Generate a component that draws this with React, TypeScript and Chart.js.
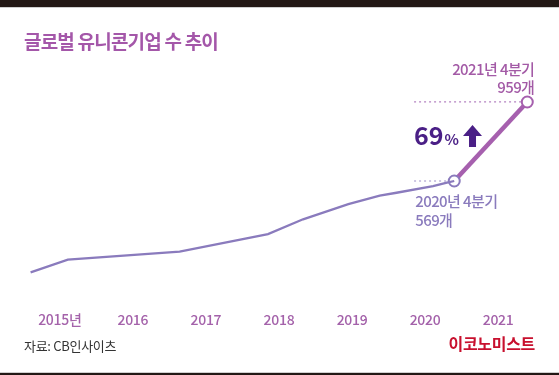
import React, { useEffect, useRef } from "react";
import { Chart, registerables } from "chart.js";

Chart.register(...registerables);

// Quarter positions (fractional year) and global unicorn counts
const mainX = [2015.1, 2015.61, 2017.14, 2018.35, 2018.83, 2019.45, 2019.88, 2020.11, 2020.61, 2020.8, 2020.9];
const mainY = [118, 181, 220, 307, 380, 455, 497, 511, 544, 561, 569];
const endX = [2020.9, 2021.9];
const endY = [569, 959];
const yearTicks = [2015, 2016, 2017, 2018, 2019, 2020, 2021];
const yearLabels = ["2015년", "2016", "2017", "2018", "2019", "2020", "2021"];
const titleText = "글로벌 유니콘기업 수 추이";
const sourceText = "자료: CB인사이츠";
const brandText = "이코노미스트";
const startLabel = ["2020년 4분기", "569개"];
const endLabel = ["2021년 4분기", "959개"];
const growthText = "69";

const FONT = "'Noto Sans CJK KR', 'Noto Sans', sans-serif";
const LAV = "#8a7bbd";
const PINK = "#a660ae";

export default function App() {
  const ref = useRef<HTMLCanvasElement | null>(null);
  useEffect(() => {
    document.body.style.margin = "0";
    const canvas = ref.current!;
    const deco = {
      id: "deco",
      beforeDraw(chart: any) {
        const c = chart.ctx;
        c.save();
        c.fillStyle = "#ffffff";
        c.fillRect(0, 0, 559, 375);
        c.fillStyle = "#231815";
        c.fillRect(0, 0, 559, 7);
        c.fillRect(0, 373, 559, 2);
        c.fillStyle = "#cfcfcf";
        c.fillRect(0, 7, 559, 1);
        c.fillRect(0, 372, 559, 1);
        // title
        c.fillStyle = "#a457a9";
        c.font = `bold 19px ${FONT}`;
        (c as any).letterSpacing = "-0.8px";
        c.textBaseline = "middle";
        c.textAlign = "left";
        c.fillText(titleText, 24, 42);
        (c as any).letterSpacing = "-0.3px";
        // source
        c.fillStyle = "#333333";
        c.font = `13px ${FONT}`;
        c.fillText(sourceText, 24, 346);
        c.fillStyle = "#c8102e";
        c.font = `bold 16px ${FONT}`;
        c.textAlign = "right";
        c.fillText(brandText, 535, 344);
        // x labels
        const xs = chart.scales.x;
        c.fillStyle = "#a462aa";
        c.font = `500 14px ${FONT}`;
        c.textAlign = "center";
        yearTicks.forEach((yr, i) => {
          c.fillText(yearLabels[i], xs.getPixelForValue(yr + 0.5), 320);
        });
        // dotted guides
        const ys = chart.scales.y;
        const x0 = xs.getPixelForValue(2020.35);
        const pA = { x: xs.getPixelForValue(endX[0]), y: ys.getPixelForValue(endY[0]) };
        const pB = { x: xs.getPixelForValue(endX[1]), y: ys.getPixelForValue(endY[1]) };
        c.setLineDash([2, 3]);
        c.lineWidth = 1.2;
        c.strokeStyle = "#9d8fc7";
        c.beginPath();
        c.moveTo(x0, pA.y);
        c.lineTo(pA.x - 6, pA.y);
        c.stroke();
        c.strokeStyle = "#b483c2";
        c.beginPath();
        c.moveTo(x0, pB.y);
        c.lineTo(pB.x - 6, pB.y);
        c.stroke();
        c.setLineDash([]);
        // point labels
        (c as any).letterSpacing = "-0.6px";
        c.textAlign = "right";
        c.fillStyle = "#a35aa6";
        c.font = `500 15px ${FONT}`;
        c.fillText(endLabel[0], pB.x + 7, pB.y - 33);
        c.fillText(endLabel[1], pB.x + 7, pB.y - 15);
        c.textAlign = "left";
        c.fillStyle = LAV;
        c.fillText(startLabel[0], pA.x - 39, pA.y + 20);
        c.fillText(startLabel[1], pA.x - 39, pA.y + 39);
        (c as any).letterSpacing = "0px";
        // growth
        c.fillStyle = "#4a1f86";
        c.font = `bold 25px ${FONT}`;
        c.textBaseline = "alphabetic";
        const gx = x0;
        const gy = 145;
        c.fillText(growthText, gx, gy);
        const w = c.measureText(growthText).width;
        c.font = `bold 15px ${FONT}`;
        c.fillText("%", gx + w + 1, gy);
        const w2 = c.measureText("%").width;
        const ax = gx + w + w2 + 5;
        c.beginPath();
        c.moveTo(ax + 9.5, 125);
        c.lineTo(ax + 19, 136);
        c.lineTo(ax + 13, 136);
        c.lineTo(ax + 13, 147);
        c.lineTo(ax + 6, 147);
        c.lineTo(ax + 6, 136);
        c.lineTo(ax, 136);
        c.closePath();
        c.fill();
        c.restore();
      },
    };
    const chart = new Chart(canvas, {
      type: "line",
      data: {
        datasets: [
          {
            data: mainX.map((x, i) => ({ x, y: mainY[i] })),
            borderColor: LAV,
            borderWidth: 2.3,
            pointRadius: 0,
            tension: 0,
          },
          {
            data: endX.map((x, i) => ({ x, y: endY[i] })),
            borderColor: PINK,
            borderWidth: 4.5,
            pointRadius: 5.5,
            pointBorderWidth: 2,
            pointBackgroundColor: "#ffffff",
            pointBorderColor: [LAV, PINK],
            tension: 0,
          },
        ],
      },
      options: {
        animation: false,
        responsive: false,
        events: [],
        layout: { padding: { left: 23.3, right: 9.8, top: 73.4, bottom: 78.7 } },
        plugins: { legend: { display: false }, tooltip: { enabled: false } },
        scales: {
          x: { type: "linear", min: 2015, max: 2022.2, display: false },
          y: { min: 0, max: 1100, display: false },
        },
      },
      plugins: [deco],
    });
    return () => chart.destroy();
  }, []);
  return <canvas ref={ref} width={559} height={375} style={{ display: "block" }} />;
}
